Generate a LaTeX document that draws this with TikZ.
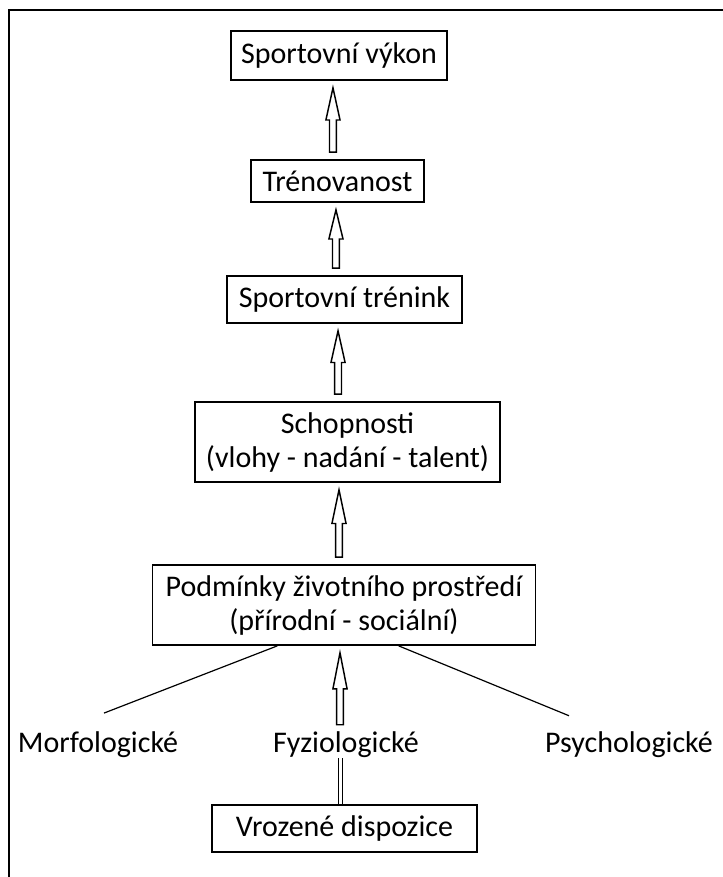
\documentclass[tikz,border=0pt]{standalone}
\usepackage{fontspec}
\setmainfont{Carlito}
\usetikzlibrary{calc}
\newcommand{\bx}{\fontsize{22.5}{25.5}\selectfont}
\newcommand{\hollowup}[3][0pt]{% #1 = x shift, #2 = lower node, #3 = upper node
  \draw[harrow] let \p1=([xshift=#1]#2.north), \p2=(#3.south), \p3=($(\p1)!.5!(\p2)$) in
    (\x1-2.6pt,\y1+5.25pt) -- (\x1-2.6pt,\y3) -- (\x1-5.3pt,\y3) -- (\x1,\y2-5.25pt)
    -- (\x1+5.3pt,\y3) -- (\x1+2.6pt,\y3) -- (\x1+2.6pt,\y1+5.25pt) -- cycle;}

\begin{document}
\begin{tikzpicture}[
  x=0.75pt, y=-0.75pt,
  box/.style={draw, line width=1.3pt, align=center, font=\bx, inner sep=2pt},
  lbl/.style={font=\bx, inner sep=0pt},
  harrow/.style={draw, fill=white, line width=1.1pt},
  link/.style={line width=0.9pt},
]
  \useasboundingbox (0,0) rectangle (723,877);
  \draw[line width=1.5pt] (9,877) -- (9,10) -- (723,10);

  % ---------------- chain of boxes
  \node[box, minimum width=162pt, minimum height=36.75pt] (vyk) at (339,55.5) {Sportovní výkon};
  \node[box, minimum width=129.75pt, minimum height=31.5pt] (trn) at (337.5,181) {Trénovanost};
  \node[box, minimum width=176.25pt, minimum height=35.25pt] (tre) at (344.5,299.5) {Sportovní trénink};
  \node[box, minimum width=228.75pt, minimum height=60pt] (sch) at (347.5,442)
    {Schopnosti\\(vlohy - nadání - talent)};
  \node[box, minimum width=287.25pt, minimum height=60pt] (podm) at (344,605)
    {Podmínky životního prostředí\\(přírodní - sociální)};
  \hollowup[-3.4pt]{trn}{vyk}
  \hollowup[-6.4pt]{tre}{trn}
  \hollowup[-7.1pt]{sch}{tre}
  \hollowup[-3.75pt]{podm}{sch}

  % ---------------- dispositions
  \node[lbl] (morf) at (98,745) {Morfologické};
  \node[lbl] (fyz) at (346,745) {Fyziologické};
  \node[lbl] (psy) at (629,745) {Psychologické};
  \node[box, minimum width=198.75pt, minimum height=35.25pt] (vroz) at (344.5,828.5) {Vrozené dispozice};
  \draw[link] ([xshift=-50pt]podm.south) -- ([xshift=4.5pt,yshift=14pt]morf.north);
  \draw[link] ([xshift=41pt]podm.south) -- ([xshift=-45pt,yshift=12pt]psy.north);
  \hollowup[-4.5pt]{fyz}{podm}
  \draw[double, double distance=2.6pt, line width=0.9pt] ([xshift=-3pt]vroz.north) -- ([xshift=-3pt]vroz.north |- fyz.south);
\end{tikzpicture}
\end{document}
